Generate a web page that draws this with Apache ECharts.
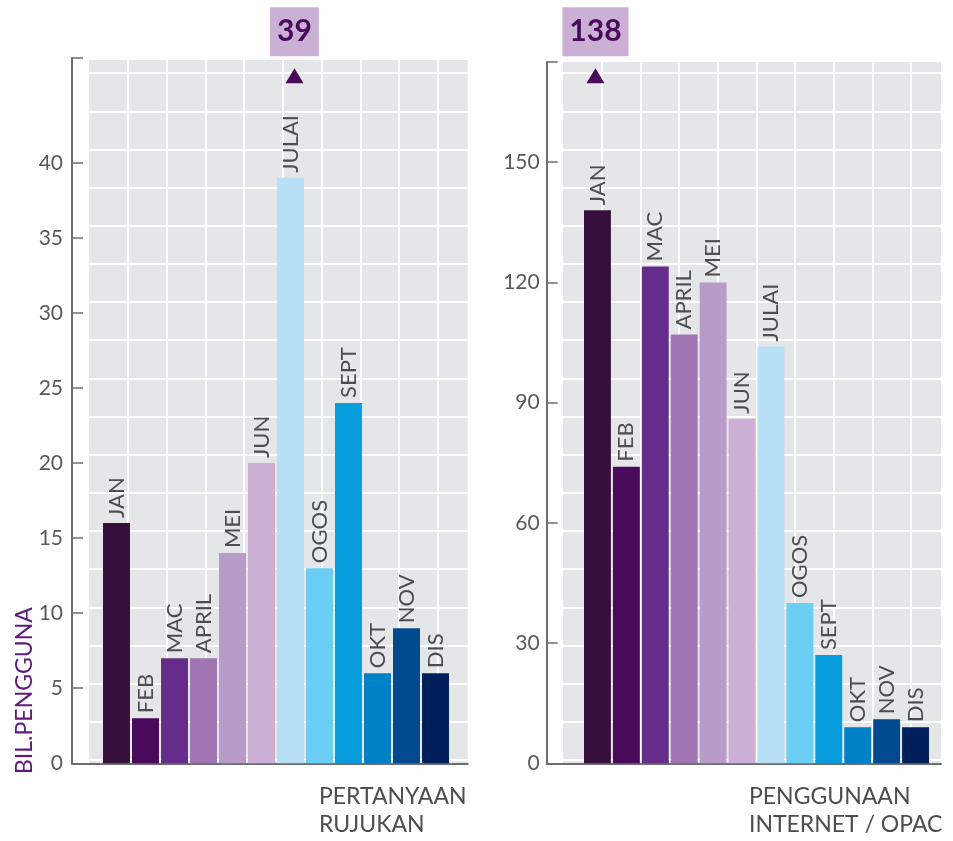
<!DOCTYPE html>
<html><head><meta charset="utf-8">
<script src="https://cdn.jsdelivr.net/npm/echarts@6/dist/echarts.min.js"></script>
<style>html,body{margin:0;padding:0;background:#fff}#c{width:953px;height:841px}</style>
</head><body><div id="c"></div>
<script>
// ---- data ----
const months = ['JAN','FEB','MAC','APRIL','MEI','JUN','JULAI','OGOS','SEPT','OKT','NOV','DIS'];
const rujukan = [16,3,7,7,14,20,39,13,24,6,9,6];
const opac = [138,74,124,107,120,86,104,40,27,9,11,9];
const rujukanTicks = [0,5,10,15,20,25,30,35,40];
const opacTicks = [0,30,60,90,120,150];
const rujukanMax = 47;
const opacMax = 175;
const monthColors = ['#34103b','#4a0a5b','#652c89','#9f76b3','#b89bc8','#cbafd5','#b7e0f6','#6bcef4','#079ddc','#0081c7','#014a8f','#00205c'];

const FONT = 'Lato';
const AXIS_C = '#6d6e71';
const grid = [], xAxis = [], yAxis = [], series = [];

function hiddenVal(extra){
  return Object.assign({type:'value', show:true, axisLine:{show:false}, axisTick:{show:false},
    axisLabel:{show:false}, splitLine:{show:false}}, extra);
}

function panel(L){
  const g0 = grid.length;
  // background
  grid.push({left:L.bgLeft, top:L.bgTop, width:L.bgW, height:L.axBottom-L.bgTop, show:true,
    backgroundColor:'#e5e6e8', borderWidth:0});
  xAxis.push({type:'value', gridIndex:g0, min:0, max:1, show:false});
  yAxis.push({type:'value', gridIndex:g0, min:0, max:1, show:false});
  // white grid pattern
  grid.push({left:L.bgLeft, top:L.bgTop, width:L.bgW, height:L.patBottom-L.bgTop});
  xAxis.push(hiddenVal({gridIndex:g0+1, min:0, max:L.bgW, interval:L.patDX,
    splitLine:{show:true, showMinLine:false, showMaxLine:false, lineStyle:{color:'#ffffff', width:2}}}));
  yAxis.push(hiddenVal({gridIndex:g0+1, min:0, max:L.patBottom-L.bgTop, interval:L.patDY,
    splitLine:{show:true, showMaxLine:false, lineStyle:{color:'#ffffff', width:2}}}));
  // axis frame
  grid.push({left:L.axX, top:L.axTop, width:L.right-L.axX, height:L.axBottom-L.axTop});
  xAxis.push(hiddenVal({gridIndex:g0+2, min:0, max:1,
    axisLine:{show:true, onZero:false, lineStyle:{color:AXIS_C, width:2}}}));
  yAxis.push({type:'value', gridIndex:g0+2, min:0, max:L.max,
    axisLine:{show:true, onZero:false, lineStyle:{color:AXIS_C, width:2}},
    axisTick:{show:true, inside:true, length:11, customValues:L.ticks.concat([L.max]),
      lineStyle:{color:AXIS_C, width:1.5}},
    axisLabel:{customValues:L.ticks, margin:L.margin, fontSize:21, fontFamily:FONT, color:'#58595b'},
    splitLine:{show:false}});
  // bars
  grid.push({left:L.barLeft, top:L.axTop, width:L.barW, height:L.axBottom-L.axTop});
  xAxis.push({type:'category', gridIndex:g0+3, data:months, show:false});
  yAxis.push({type:'value', gridIndex:g0+3, min:0, max:L.max, show:false});
  series.push({
    type:'bar', xAxisIndex:g0+3, yAxisIndex:g0+3, barCategoryGap:'7%',
    data:L.values.map((v,i)=>({value:v, itemStyle:{color:monthColors[i]}})),
    label:{show:true, position:'top', rotate:90, align:'left', verticalAlign:'middle', distance:5,
      formatter:'{b}', fontSize:22, fontFamily:FONT, color:'#4d4d4f'},
    markPoint:{
      symbol:'triangle', symbolSize:[18,15], symbolOffset:[L.triDX,0],
      itemStyle:{color:'#4a0a5b'},
      data:[{type:'max', y:L.triY}],
      label:{show:true, position:'top', distance:12, formatter:'{c}', fontSize:30, fontWeight:'bold',
        fontFamily:FONT, color:'#4a0a5b', backgroundColor:'#cbb0d6', padding:[8,7,8,7], lineHeight:33}
    }
  });
}

panel({values:rujukan, ticks:rujukanTicks, max:rujukanMax,
  bgLeft:89, bgW:378.7, bgTop:60, patBottom:760, patDX:38.78, patDY:38.16,
  axX:72, axTop:57.7, axBottom:763.3, right:467.7, barLeft:102, barW:348, margin:9, triY:75.8, triDX:4});
panel({values:opac, ticks:opacTicks, max:opacMax,
  bgLeft:563, bgW:378, bgTop:62, patBottom:760, patDX:38.68, patDY:38.16,
  axX:546.7, axTop:62, axBottom:763.3, right:941, barLeft:583, barW:347, margin:7, triY:75.8, triDX:-2});

const titleStyle = {fontFamily:FONT, fontSize:23, fontWeight:'normal', color:'#4d4d4f', lineHeight:28};
const option = {
  animation:false,
  title:[
    {text:'PERTANYAAN\nRUJUKAN', left:319, top:783, padding:0, textStyle:titleStyle},
    {text:'PENGGUNAAN\nINTERNET / OPAC', left:749, top:783, padding:0, textStyle:titleStyle}
  ],
  graphic:[{type:'text', x:24.5, y:774, rotation:Math.PI/2,
    style:{text:'BIL.PENGGUNA', font:'23px Lato', fill:'#5b1b76', align:'left', verticalAlign:'middle'}}],
  grid, xAxis, yAxis, series
};
const chart = echarts.init(document.getElementById('c'));
chart.setOption(option);
</script>
</body></html>
